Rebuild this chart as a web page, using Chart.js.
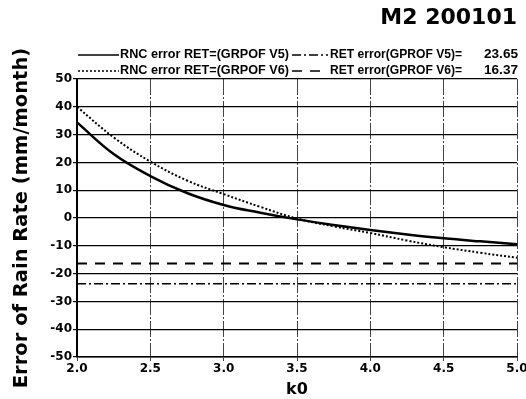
<!DOCTYPE html>
<html lang="en">
<head>
  <meta charset="UTF-8" />
  <title>M2 200101</title>
  <script src="https://cdn.jsdelivr.net/npm/chart.js"></script>
  <style>
    html, body { margin: 0; padding: 0; background: #fff; }
    #wrap { width: 526px; height: 399px; }
  </style>
</head>
<body>
  <div id="wrap"><canvas id="errChart" width="526" height="399"></canvas></div>

  <script>
    // values
    const k0 = [2.0, 2.25, 2.5, 2.75, 3.0, 3.25, 3.5, 3.75, 4.0, 4.25, 4.5, 4.75, 5.0];
    const rncV5 = [34.4, 23.0, 15.1, 9.0, 4.7, 1.9, -0.5, -2.5, -4.3, -5.9, -7.3, -8.4, -9.4];
    const rncV6 = [40.0, 29.0, 20.3, 13.5, 8.6, 4.0, -0.2, -3.0, -5.4, -8.1, -10.5, -12.5, -14.3];
    const retErr = [-23.65, -16.37];   // GPROF V5, V6
    const xTicks = [2.0, 2.5, 3.0, 3.5, 4.0, 4.5, 5.0];
    const yTicks = [-50, -40, -30, -20, -10, 0, 10, 20, 30, 40, 50];

    const FONT = "'DejaVu Sans', 'Liberation Sans', sans-serif";
    const ARIAL = "'Liberation Sans', Arial, sans-serif";

    const pts = (ys) => k0.map((x, i) => ({ x: x, y: ys[i] }));
    const flat = (v) => [{ x: k0[0], y: v }, { x: k0[k0.length - 1], y: v }];

    const datasets = [
      {
        label: 'RNC error RET=(GRPOF V5)',
        data: pts(rncV5),
        borderColor: '#000', borderWidth: 2.5, borderDash: [],
        tension: 0.4
      },
      {
        label: 'RNC error RET=(GRPOF V6)',
        data: pts(rncV6),
        borderColor: '#000', borderWidth: 2, borderDash: [2, 2],
        tension: 0.4
      },
      {
        label: 'RET error(GPROF V5)=',
        value: Math.abs(retErr[0]).toFixed(2),
        data: flat(retErr[0]),
        borderColor: '#000', borderWidth: 1.5, borderDash: [9, 3, 2, 3]
      },
      {
        label: 'RET error(GPROF V6)=',
        value: Math.abs(retErr[1]).toFixed(2),
        data: flat(retErr[1]),
        borderColor: '#000', borderWidth: 2, borderDash: [10, 8]
      }
    ];

    // text squeezed or stretched to span x0..x1
    function spanText(c, txt, x0, x1, y) {
      const w = c.measureText(txt).width;
      c.save();
      c.translate(x0, y);
      c.scale((x1 - x0) / w, 1);
      c.textAlign = 'left';
      c.fillText(txt, 0, 0);
      c.restore();
    }

    // title + two-row legend drawn above the plot
    const header = {
      id: 'header',
      afterDraw(chart) {
        const c = chart.ctx;
        const ds = chart.data.datasets;
        c.save();
        c.fillStyle = '#000';
        c.textBaseline = 'middle';
        c.font = 'bold 22px ' + FONT;
        c.textAlign = 'right';
        c.fillText('M2 200101', 517, 18);

        const rows = [[0, 2], [1, 3]];
        const rowY = [55, 71];
        c.font = 'bold 12.5px ' + ARIAL;
        rows.forEach((r, j) => {
          const y = rowY[j];
          const a = ds[r[0]], b = ds[r[1]];
          const sample = (d, x0, x1) => {
            c.beginPath();
            c.lineWidth = Math.min(d.borderWidth, 1.5);
            c.setLineDash(d.borderDash);
            c.moveTo(x0, y); c.lineTo(x1, y);
            c.strokeStyle = '#000';
            c.stroke();
          };
          sample(a, 78, 119);
          spanText(c, a.label, 120, 289, y);
          sample(b, 292, 328);
          spanText(c, b.label, 330, 462, y);
          spanText(c, b.value, 484, 518, y);
        });
        c.restore();
      }
    };

    new Chart(document.getElementById('errChart'), {
      type: 'line',
      data: { datasets: datasets },
      plugins: [header],
      options: {
        responsive: false,
        animation: false,
        layout: { padding: { top: 79, right: 9, left: 0, bottom: 0 } },
        elements: { point: { radius: 0 } },
        plugins: {
          legend: { display: false },
          title: { display: false },
          tooltip: { enabled: false }
        },
        scales: {
          x: {
            type: 'linear',
            min: 2, max: 5,
            afterBuildTicks: (s) => { s.ticks = xTicks.map(v => ({ value: v })); },
            afterFit: (s) => { s.height = 42; s.paddingLeft = 0; s.paddingRight = 0; },
            ticks: {
              color: '#000', padding: 1, maxRotation: 0,
              font: { family: FONT, size: 12, weight: 'bold' },
              callback: (v) => Number(v).toFixed(1)
            },
            grid: { color: '#444', lineWidth: 1, tickLength: 4 },
            border: { color: '#000', width: 1.5, dash: [16, 2, 2, 2] },
            title: {
              display: true, text: 'k0', color: '#000',
              font: { family: FONT, size: 16, weight: 'bold', lineHeight: 1 },
              padding: { top: 0, bottom: 1 }
            }
          },
          y: {
            min: -50, max: 50,
            afterBuildTicks: (s) => { s.ticks = yTicks.map(v => ({ value: v })); },
            afterFit: (s) => { s.width = 77; },
            ticks: {
              color: '#000', padding: 1,
              font: { family: FONT, size: 12, weight: 'bold' }
            },
            grid: { color: '#000', lineWidth: 1.2, tickLength: 4 },
            border: { color: '#000', width: 2 },
            title: {
              display: true, text: 'Error of Rain Rate (mm/month)', color: '#000',
              font: { family: FONT, size: 19.5, weight: 'bold', lineHeight: 1.2 },
              padding: { top: 10, bottom: 0 }
            }
          }
        }
      }
    });
  </script>
</body>
</html>
